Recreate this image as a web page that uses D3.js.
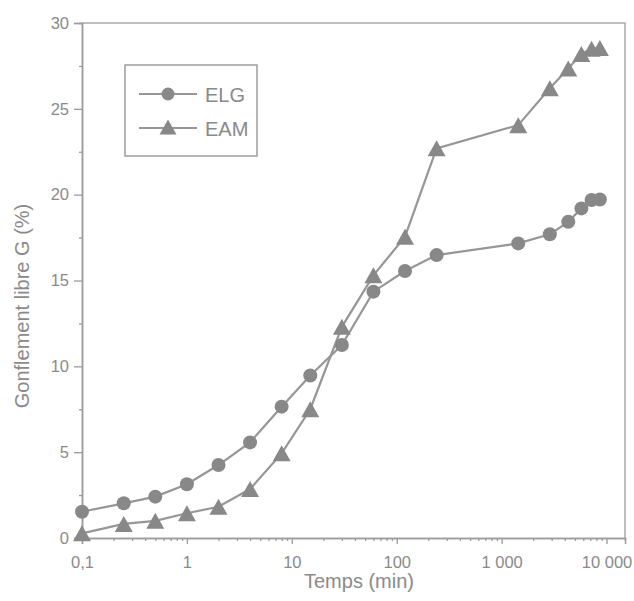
<!DOCTYPE html>
<html>
<head>
<meta charset="utf-8">
<script src="https://cdn.jsdelivr.net/npm/d3@7/dist/d3.min.js"></script>
<style>
  html, body { margin: 0; padding: 0; background: #fff; }
  svg { display: block; }
  text { font-family: Arial, "Liberation Sans", sans-serif; fill: #8a8a8a; }
</style>
</head>
<body>
<svg id="chart" width="634" height="601"></svg>
<script>
// Elapsed time (min) for each measurement
const times = [0.1, 0.25, 0.5, 1, 2, 4, 8, 15, 30, 60, 120, 240, 1440, 2880, 4320, 5760, 7200, 8640];
// Free swelling G (%) per sample
const elg = [1.53, 2.02, 2.41, 3.13, 4.25, 5.57, 7.65, 9.47, 11.24, 14.35, 15.55, 16.48, 17.16, 17.69, 18.42, 19.2, 19.69, 19.72];
const eam = [0.27, 0.82, 1.0, 1.44, 1.82, 2.85, 4.93, 7.5, 12.3, 15.3, 17.55, 22.7, 24.05, 26.2, 27.35, 28.2, 28.5, 28.55];
const seriesNames = ["ELG", "EAM"];
const xTickValues = [0.1, 1, 10, 100, 1000, 10000];
const xTickLabels = ["0,1", "1", "10", "100", "1 000", "10 000"];
const yTickValues = [0, 5, 10, 15, 20, 25, 30];
const xTitle = "Temps (min)";
const yTitle = "Gonflement libre G (%)";

const svg = d3.select("#chart");
const L = 82, R = 625, T = 23, B = 538;
const axisColor = "#9c9c9c";
const lineColor = "#969696";
const markColor = "#888888";

const x = d3.scaleLog().domain([0.1, 15000]).range([L, R]);
const y = d3.scaleLinear().domain([0, 30]).range([B, T]);

// frame (top and right)
svg.append("path")
  .attr("d", `M${L},${T}H${R}V${B}`)
  .attr("fill", "none").attr("stroke", "#aaaaaa").attr("stroke-width", 1.5);

// minor x ticks: 2..9 in each decade
const minorX = [];
for (let d = -1; d <= 4; d++) for (let k = 2; k <= 9; k++) {
  const v = k * Math.pow(10, d);
  if (v < 15000) minorX.push(v);
}
const xAxisMinor = d3.axisBottom(x).tickValues(minorX).tickSize(3).tickFormat("");
const gxm = svg.append("g").attr("transform", `translate(0,${B})`).call(xAxisMinor);

const labelMap = new Map(xTickValues.map((v, i) => [v, xTickLabels[i]]));
const xAxis = d3.axisBottom(x).tickValues(xTickValues).tickSize(6).tickPadding(8)
  .tickFormat(d => labelMap.get(d));
const gx = svg.append("g").attr("transform", `translate(0,${B})`).call(xAxis);

const yAxisMinor = d3.axisLeft(y).tickValues(d3.range(2.5, 30, 5)).tickSize(3).tickFormat("");
const gym = svg.append("g").attr("transform", `translate(${L},0)`).call(yAxisMinor);
const yAxis = d3.axisLeft(y).tickValues(yTickValues).tickSize(8).tickPadding(5);
const gy = svg.append("g").attr("transform", `translate(${L},0)`).call(yAxis);

[gx, gxm, gy, gym].forEach(g => {
  g.selectAll(".domain").attr("stroke", axisColor).attr("stroke-width", 1.5);
  g.selectAll(".tick line").attr("stroke", axisColor).attr("stroke-width", 1.3);
  g.selectAll(".tick text").attr("fill", "#8a8a8a").attr("font-size", 16.5)
    .attr("font-family", "Arial, 'Liberation Sans', sans-serif");
});
gx.selectAll(".tick text").attr("dy", "0.95em");

// axis titles
svg.append("text").attr("x", 359).attr("y", 588).attr("text-anchor", "middle")
  .attr("font-size", 20).text(xTitle);
svg.append("text").attr("transform", "translate(29,306) rotate(-90)")
  .attr("text-anchor", "middle").attr("font-size", 20).text(yTitle);

// series
const triPath = (w, h) => `M0,${-h / 2}L${w / 2},${h / 2}L${-w / 2},${h / 2}Z`;
const line = d3.line().x(d => x(d[0])).y(d => y(d[1]));
const dataE = times.map((t, i) => [t, elg[i]]);
const dataA = times.map((t, i) => [t, eam[i]]);

[dataA, dataE].forEach(d => {
  svg.append("path").datum(d).attr("d", line)
    .attr("fill", "none").attr("stroke", lineColor).attr("stroke-width", 2.2);
});

svg.append("g").selectAll("path").data(dataA).join("path")
  .attr("d", triPath(18, 16))
  .attr("transform", d => `translate(${x(d[0])},${y(d[1])})`)
  .attr("fill", markColor);

svg.append("g").selectAll("circle").data(dataE).join("circle")
  .attr("cx", d => x(d[0])).attr("cy", d => y(d[1])).attr("r", 7)
  .attr("fill", markColor);

// legend
const lg = svg.append("g");
lg.append("rect").attr("x", 125).attr("y", 65).attr("width", 132).attr("height", 91)
  .attr("fill", "#fff").attr("stroke", "#9c9c9c").attr("stroke-width", 1.5);
const legendRows = [{ name: seriesNames[0], yy: 94, shape: "circle" },
                    { name: seriesNames[1], yy: 128, shape: "tri" }];
legendRows.forEach(r => {
  lg.append("line").attr("x1", 139).attr("x2", 197).attr("y1", r.yy).attr("y2", r.yy)
    .attr("stroke", lineColor).attr("stroke-width", 2.2);
  if (r.shape === "circle") {
    lg.append("circle").attr("cx", 168).attr("cy", r.yy).attr("r", 6.5).attr("fill", markColor);
  } else {
    lg.append("path").attr("d", triPath(17, 15))
      .attr("transform", `translate(168,${r.yy - 1})`).attr("fill", markColor);
  }
  lg.append("text").attr("x", 205).attr("y", r.yy + 8).attr("font-size", 20).text(r.name);
});
</script>
</body>
</html>
